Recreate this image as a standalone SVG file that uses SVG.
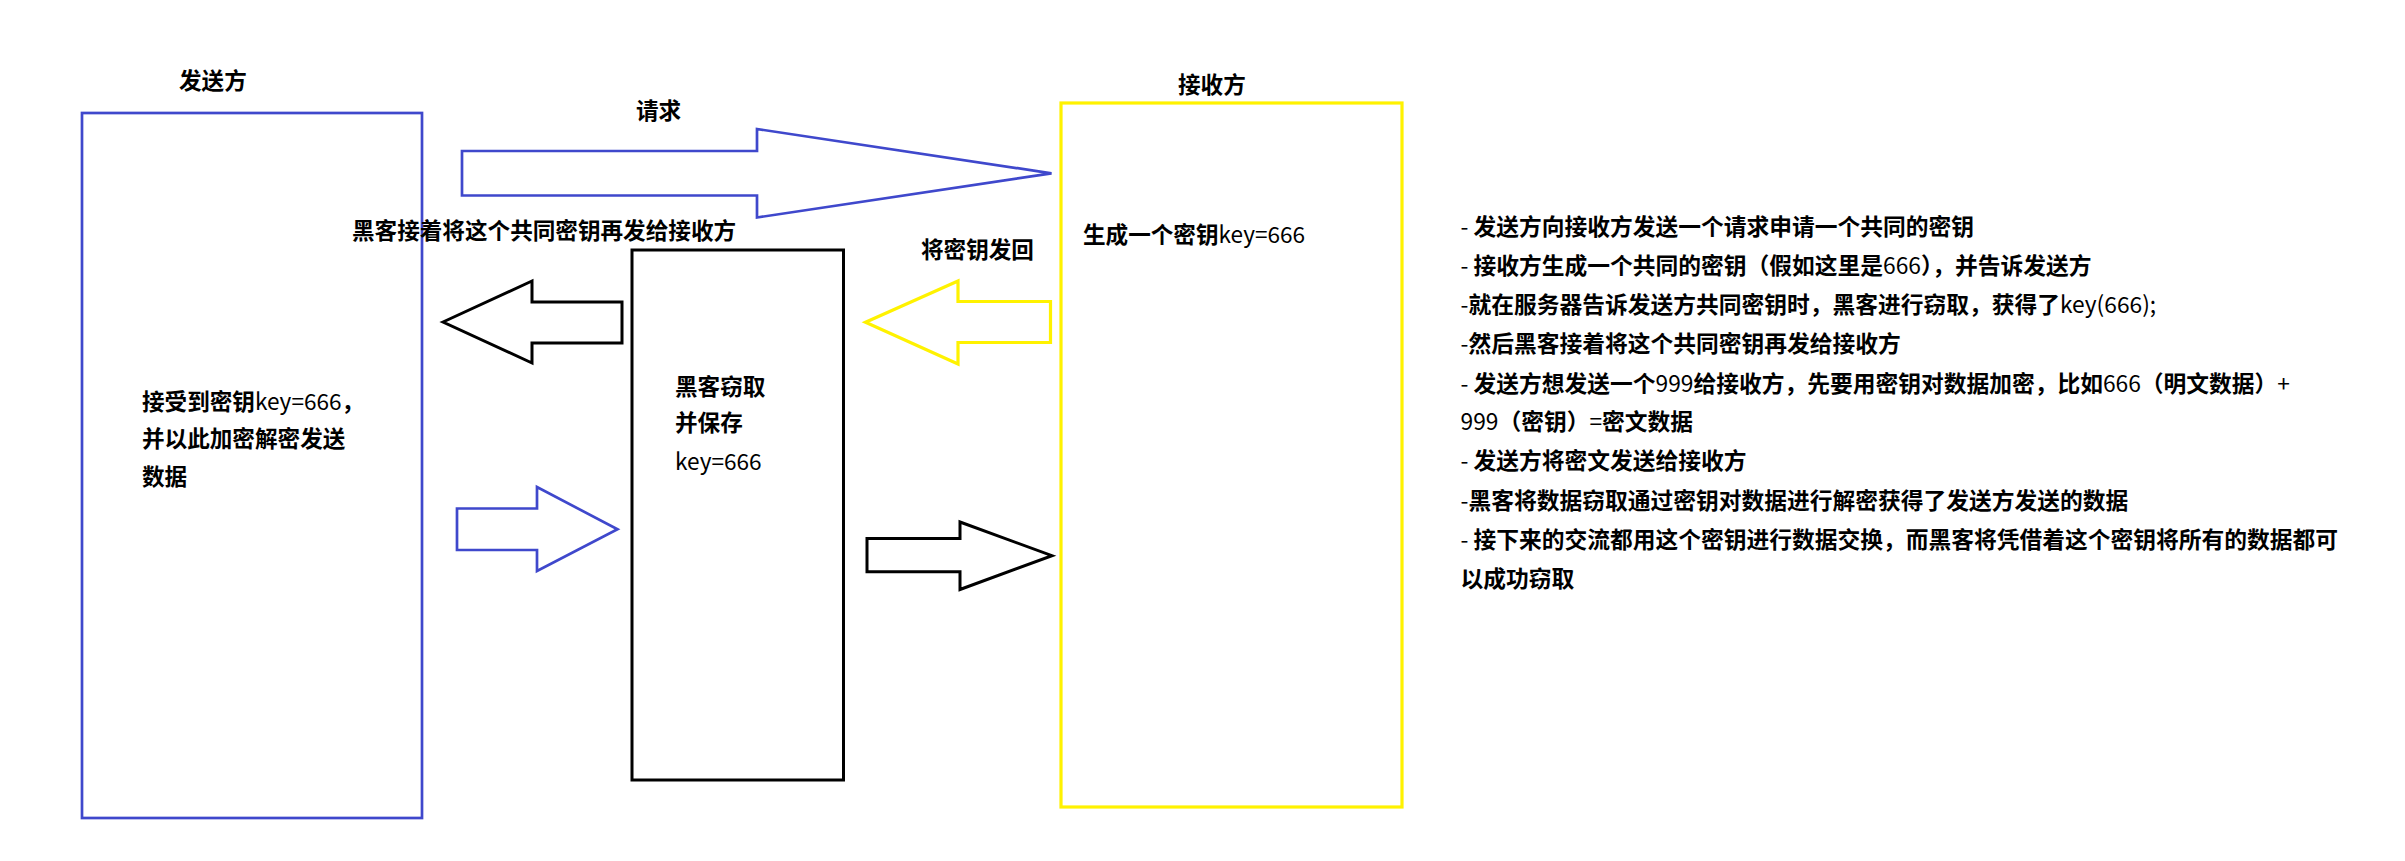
<svg xmlns="http://www.w3.org/2000/svg" width="2405" height="861" viewBox="0 0 2405 861">
<style>
text{font-family:"Noto Sans CJK SC","Noto Sans",sans-serif;font-size:22.6px;font-weight:700;fill:#000}
#notes text{font-size:22.75px}
.n{font-weight:400}
.blue{stroke:#3f48cc;stroke-width:2.7;fill:none}
.yel{stroke:#fff200;stroke-width:3.2;fill:none}
.blk{stroke:#000;stroke-width:3;fill:none}
.arr{stroke-linejoin:miter}
</style>
<rect width="2405" height="861" fill="#fff"/>
<g id="sender">
<rect class="blue" x="82" y="113" width="340" height="705"/>
<text x="179" y="88.5">发送方</text>
<text x="142" y="410">接受到密钥<tspan class="n">key=666</tspan>，</text>
<text x="142" y="447">并以此加密解密发送</text>
<text x="142" y="485">数据</text>
</g>
<g id="receiver">
<rect class="yel" x="1061" y="103" width="341" height="704"/>
<text x="1178" y="92.5">接收方</text>
<text x="1083" y="242.5">生成一个密钥<tspan class="n">key=666</tspan></text>
</g>
<g id="hacker">
<rect class="blk" x="632" y="250" width="211.5" height="530"/>
<text x="675" y="394.5">黑客窃取</text>
<text x="675" y="431">并保存</text>
<text class="n" x="675" y="470">key=666</text>
</g>
<g id="connectors">
<polygon class="blue arr" points="462,151 757,151 757,129 1051.5,173.3 757,217.5 757,195.5 462,195.5"/>
<text x="636" y="118.5">请求</text>
<polygon class="blk arr" points="443,322 532,281 532,302 622,302 622,343 532,343 532,363"/>
<text x="352" y="238.5">黑客接着将这个共同密钥再发给接收方</text>
<polygon class="yel arr" points="865.5,322.3 958,281 958,301.5 1050.5,301.5 1050.5,342.5 958,342.5 958,364"/>
<text x="921" y="258">将密钥发回</text>
<polygon class="blue arr" points="457,508.5 537,508.5 537,487 617.5,529.3 537,571 537,550 457,550"/>
<polygon class="blk arr" points="867,538.5 960,538.5 960,522 1052,555.7 960,589.5 960,571.7 867,571.7"/>
</g>
<g id="notes">
<text x="1460.5" y="234.5"><tspan class="n">- </tspan>发送方向接收方发送一个请求申请一个共同的密钥</text>
<text x="1460.5" y="273.5"><tspan class="n">- </tspan>接收方生成一个共同的密钥（假如这里是<tspan class="n">666</tspan>），并告诉发送方</text>
<text x="1460.5" y="312.5"><tspan class="n">-</tspan>就在服务器告诉发送方共同密钥时，黑客进行窃取，获得了<tspan class="n">key(666);</tspan></text>
<text x="1460.5" y="352"><tspan class="n">-</tspan>然后黑客接着将这个共同密钥再发给接收方</text>
<text x="1460.5" y="391.5"><tspan class="n">- </tspan>发送方想发送一个<tspan class="n">999</tspan>给接收方，先要用密钥对数据加密，比如<tspan class="n">666</tspan>（明文数据）<tspan class="n">+</tspan></text>
<text x="1460.5" y="430"><tspan class="n">999</tspan>（密钥）<tspan class="n">=</tspan>密文数据</text>
<text x="1460.5" y="469"><tspan class="n">- </tspan>发送方将密文发送给接收方</text>
<text x="1460.5" y="508.5"><tspan class="n">-</tspan>黑客将数据窃取通过密钥对数据进行解密获得了发送方发送的数据</text>
<text x="1460.5" y="548"><tspan class="n">- </tspan>接下来的交流都用这个密钥进行数据交换，而黑客将凭借着这个密钥将所有的数据都可</text>
<text x="1460.5" y="587">以成功窃取</text>
</g>
</svg>
